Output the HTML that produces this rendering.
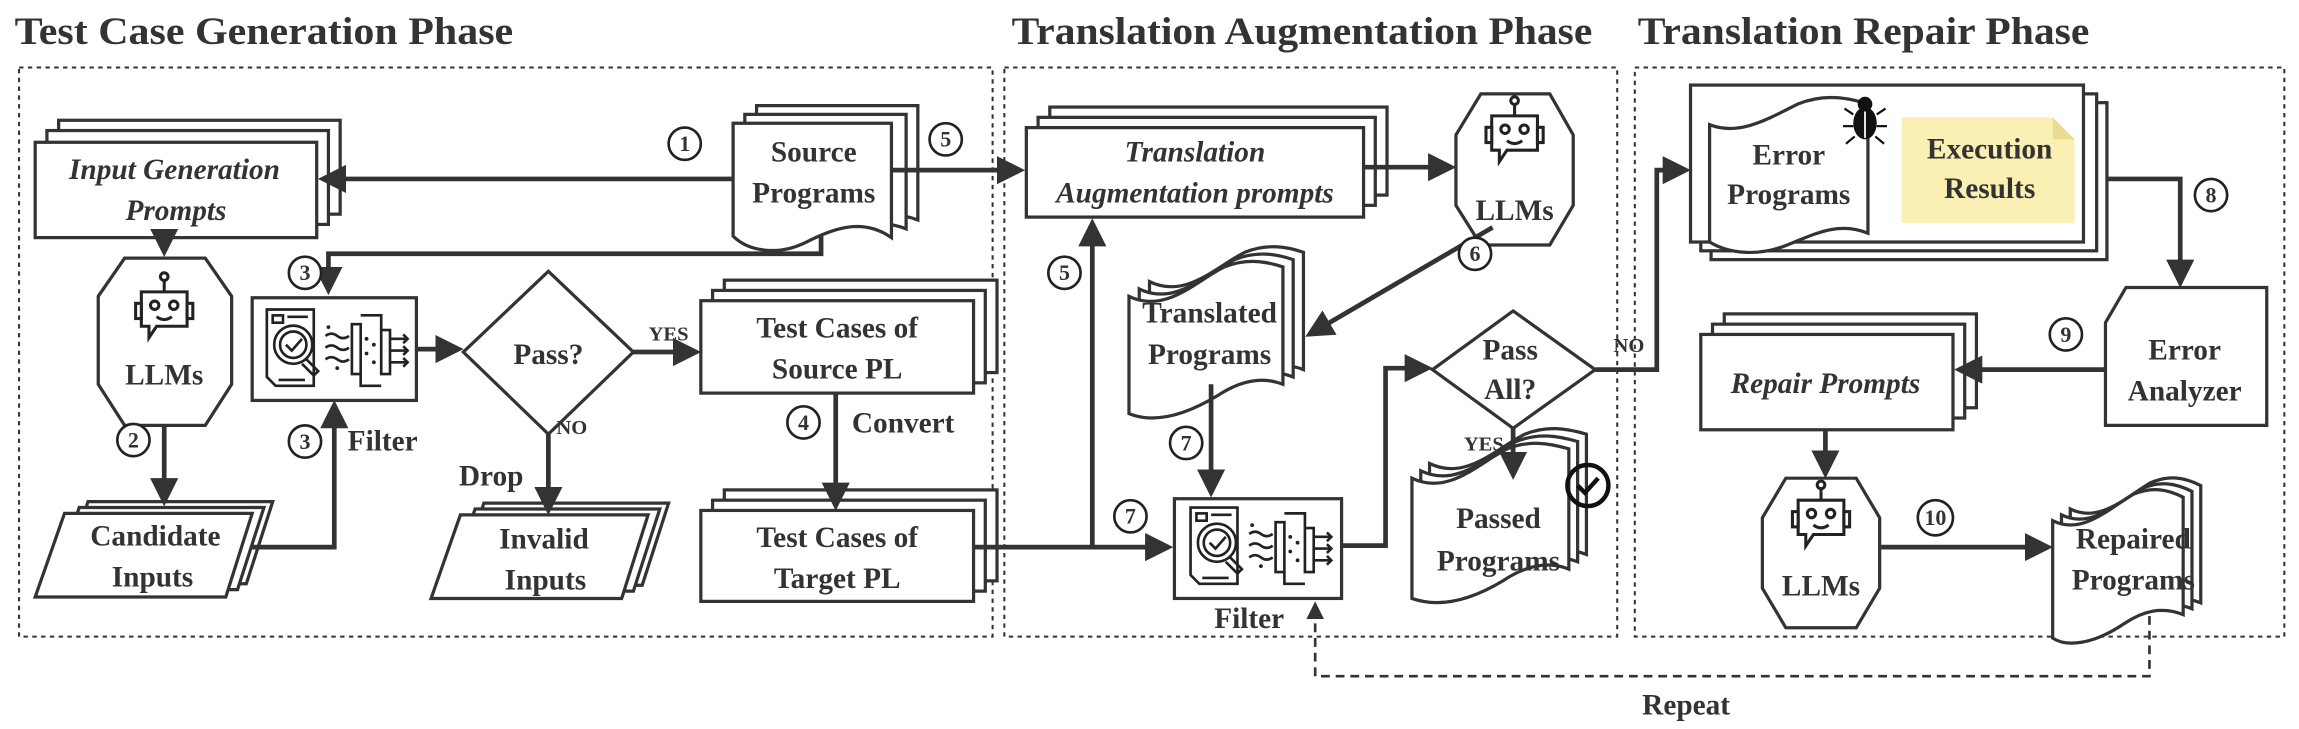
<!DOCTYPE html>
<html><head><meta charset="utf-8"><style>
html,body{margin:0;padding:0;background:#fff;}
svg{display:block;}
text{font-family:"Liberation Serif",serif;font-weight:bold;fill:#333;}
</style></head><body>
<svg width="2299" height="729" viewBox="0 0 1568 497" preserveAspectRatio="none" xmlns="http://www.w3.org/2000/svg">
<defs>
<marker id="ah" markerWidth="6" markerHeight="6" refX="5" refY="3" orient="auto" markerUnits="strokeWidth"><path d="M0,0 L6,3 L0,6 Z" fill="#333"/></marker>
<g id="filt" fill="none" stroke="#222" stroke-width="1.8">
<path d="M8,6 H40 V58 H14 L8,52 Z" fill="#fff"/>
<rect x="12" y="10" width="7" height="5"/>
<line x1="22" y1="11" x2="36" y2="11"/><line x1="16" y1="54" x2="34" y2="54"/>
<circle cx="26" cy="30" r="13" fill="#fff"/><circle cx="26" cy="30" r="9"/>
<path d="M21,30 l4,4 l7,-8"/><path d="M35,40 l8,8 l-3,3 l-8,-8"/>
<path d="M48,24 q4,-3 8,0 t8,0 M48,32 q4,-3 8,0 t8,0 M48,40 q4,-3 8,0 t8,0"/>
<rect x="66" y="16" width="6" height="34"/><rect x="86" y="20" width="6" height="30"/>
<path d="M72,10 H86 V20 M72,50 V58 H86"/>
<path d="M92,26 h12 m-3,-3 l3,3 l-3,3 M92,34 h12 m-3,-3 l3,3 l-3,3 M92,42 h12 m-3,-3 l3,3 l-3,3"/>
<g fill="#222" stroke="none"><circle cx="76" cy="26" r="1.3"/><circle cx="81" cy="30" r="1.3"/><circle cx="76" cy="36" r="1.3"/><circle cx="81" cy="42" r="1.3"/><circle cx="50" cy="18" r="1.3"/><circle cx="56" cy="46" r="1.3"/></g>
</g>
<g id="bot" fill="#fff" stroke="#222" stroke-width="1.6">
<line x1="0" y1="-16" x2="0" y2="-10"/><circle cx="0" cy="-18" r="2"/>
<path d="M-12,-10 H12 V8 H-4 L-8,14 V8 H-12 Z"/>
<rect x="-15" y="-4" width="3" height="8"/><rect x="12" y="-4" width="3" height="8"/>
<circle cx="-5" cy="-3" r="2.2"/><circle cx="5" cy="-3" r="2.2"/>
<path d="M-4,3 q4,3 8,0"/>
</g>
</defs>

<!-- titles -->
<text x="10" y="30" font-size="27" textLength="340" lengthAdjust="spacingAndGlyphs">Test Case Generation Phase</text>
<text x="690" y="30" font-size="27" textLength="396" lengthAdjust="spacingAndGlyphs">Translation Augmentation Phase</text>
<text x="1117" y="30" font-size="27" textLength="308" lengthAdjust="spacingAndGlyphs">Translation Repair Phase</text>

<!-- phase boxes -->
<g fill="none" stroke="#333" stroke-width="1.4" stroke-dasharray="3,3">
<rect x="13" y="46" width="664" height="388"/>
<rect x="685" y="46" width="418" height="388"/>
<rect x="1115" y="46" width="443" height="388"/>
</g>

<g stroke="#333" stroke-width="2.2" fill="#fff">
<rect x="40" y="82" width="192" height="64"/><rect x="32" y="89" width="192" height="64"/><rect x="24" y="97" width="192" height="65"/>
<path d="M516,72 h110 v78 c-30,-12 -60,10 -110,0 Z"/><path d="M508,78 h110 v78 c-30,-12 -60,10 -110,0 Z"/>
<path d="M500,84 h108 v78 c-20,-14 -40,-6 -58,3 c-20,10 -40,6 -50,-4 Z"/>
<rect x="494" y="191" width="186" height="63"/><rect x="486" y="198" width="186" height="63"/><rect x="478" y="205" width="186" height="63"/>
<rect x="494" y="334" width="186" height="62"/><rect x="486" y="341" width="186" height="62"/><rect x="478" y="348" width="186" height="62"/>
<!-- Candidate Inputs -->
<path d="M60,342 h126 l-18,56 h-126 Z"/><path d="M54,346 h126 l-18,56 h-126 Z"/><path d="M44,350 h128 l-18,57 h-130 Z"/>
<!-- Invalid Inputs -->
<path d="M330,343 h126 l-18,56 h-126 Z"/><path d="M324,347 h126 l-18,56 h-126 Z"/><path d="M314,351 h128 l-18,57 h-130 Z"/>
<!-- LLM octagons -->
<path d="M85,176 h55 l18,26 v60 l-18,28 h-55 l-18,-28 v-60 Z"/>
<path d="M1010,64 h47 l16,28 v48 l-16,27 h-47 l-17,-27 v-48 Z"/>
<path d="M1218,326 h48 l16,27 v48 l-16,27 h-48 l-16,-27 v-48 Z"/>
<path d="M374,185 L432,240 L374,296 L316,240 Z"/>
<path d="M1032,212 L1088,252 L1032,292 L977,252 Z"/>
<rect x="172" y="203" width="112" height="70"/>
<rect x="801" y="340" width="114" height="68"/>
<rect x="716" y="73" width="230" height="60"/><rect x="708" y="80" width="230" height="60"/><rect x="700" y="87" width="230" height="61"/>
<path d="M784,192 c25,12 45,-10 65,-20 c15,-6 28,-4 40,0 v80 c-15,-6 -30,-2 -45,8 c-25,15 -45,18 -60,12 Z"/>
<path d="M777,197 c25,12 45,-10 65,-20 c15,-6 28,-4 40,0 v80 c-15,-6 -30,-2 -45,8 c-25,15 -45,18 -60,12 Z"/>
<path d="M770,202 c25,12 45,-10 65,-20 c15,-6 28,-4 40,0 v80 c-15,-6 -30,-2 -45,8 c-25,15 -45,18 -60,12 Z"/>
<path d="M975,316 c25,12 45,-10 65,-20 c15,-6 28,-4 42,0 v82 c-15,-6 -30,-2 -45,8 c-25,15 -45,18 -62,12 Z"/>
<path d="M969,321 c25,12 45,-10 65,-20 c15,-6 28,-4 42,0 v82 c-15,-6 -30,-2 -45,8 c-25,15 -45,18 -62,12 Z"/>
<path d="M963,326 c25,12 45,-10 65,-20 c15,-6 28,-4 42,0 v82 c-15,-6 -30,-2 -45,8 c-25,15 -45,18 -62,12 Z"/>
<path d="M1412,347 c20,10 38,-8 55,-18 c12,-5 22,-4 34,2 v80 c-15,-6 -28,-2 -40,6 c-22,15 -40,16 -49,10 Z"/>
<path d="M1406,351 c20,10 38,-8 55,-18 c12,-5 22,-4 34,2 v80 c-15,-6 -28,-2 -40,6 c-22,15 -40,16 -49,10 Z"/>
<path d="M1400,355 c20,10 38,-8 55,-18 c12,-5 22,-4 34,2 v80 c-15,-6 -28,-2 -40,6 c-22,15 -40,16 -49,10 Z"/>
<rect x="1167" y="70" width="270" height="107"/><rect x="1160" y="64" width="270" height="107"/><rect x="1153" y="58" width="268" height="107"/>
<path d="M1166,85 c20,8 40,-4 60,-14 c15,-6 30,-6 48,0 v88 c-20,-8 -35,0 -55,8 c-20,8 -40,6 -53,-2 Z"/>
<rect x="1176" y="214" width="172" height="64"/><rect x="1168" y="221" width="172" height="64"/><rect x="1160" y="228" width="172" height="65"/>
<path d="M1450,196 h96 v94 h-110 v-70 Z"/>
</g>
<path d="M1297,80 h103 l15,15 v57 h-118 Z" fill="#fbf0b4"/>
<path d="M1400,80 v15 h15 Z" fill="#ecdc92"/>
<g fill="#111"><ellipse cx="1272" cy="84" rx="8" ry="11"/><circle cx="1272" cy="71" r="5"/>
<g stroke="#111" stroke-width="1.5"><line x1="1264" y1="78" x2="1258" y2="74"/><line x1="1280" y1="78" x2="1286" y2="74"/><line x1="1264" y1="86" x2="1257" y2="86"/><line x1="1280" y1="86" x2="1287" y2="86"/><line x1="1265" y1="93" x2="1259" y2="98"/><line x1="1279" y1="93" x2="1285" y2="98"/></g></g>
<line x1="1272" y1="76" x2="1272" y2="94" stroke="#fff" stroke-width="1.2"/>
<circle cx="1083" cy="331" r="14" fill="none" stroke="#111" stroke-width="3"/>
<path d="M1076,331 l5,5 l9,-10" fill="none" stroke="#111" stroke-width="3"/>

<use href="#filt" x="174" y="205"/>
<use href="#filt" x="804" y="340"/>
<g transform="translate(112,212) scale(1.3)"><use href="#bot"/></g>
<g transform="translate(1033,92) scale(1.3)"><use href="#bot"/></g>
<g transform="translate(1242,354) scale(1.3)"><use href="#bot"/></g>

<g fill="none" stroke="#333" stroke-width="3.2" marker-end="url(#ah)">
<path d="M500,122 H220"/>
<path d="M608,116 H696"/>
<path d="M560,160 V173 H224 V198"/>
<path d="M112,162 V172"/>
<path d="M112,290 V342"/>
<path d="M172,373 H228 V276"/>
<path d="M285,238 H313"/>
<path d="M432,240 H475"/>
<path d="M374,296 V348"/>
<path d="M570,268 V345"/>
<path d="M664,373 H797"/>
<path d="M745,373 V152"/>
<path d="M930,114 H990"/>
<path d="M1018,155 L893,228"/>
<path d="M826,262 V336"/>
<path d="M915,372 H945 V251 H974"/>
<path d="M1088,252 H1130 V116 H1150"/>
<path d="M1032,292 V324"/>
<path d="M1437,122 H1487 V193"/>
<path d="M1436,252 H1336"/>
<path d="M1245,293 V323"/>
<path d="M1283,373 H1397"/>
</g>
<path d="M1466,420 V461 H897 V412" fill="none" stroke="#333" stroke-width="1.8" stroke-dasharray="6,4"/>
<path d="M897,410 L891,422 H903 Z" fill="#333"/>

<g fill="#fff" stroke="#222" stroke-width="1.8">
<circle cx="467" cy="98" r="11"/><circle cx="645" cy="95" r="11"/><circle cx="208" cy="186" r="11"/>
<circle cx="91" cy="300" r="11"/><circle cx="208" cy="301" r="11"/><circle cx="548" cy="288" r="11"/>
<circle cx="726" cy="186" r="11"/><circle cx="771" cy="352" r="11"/><circle cx="809" cy="302" r="11"/>
<circle cx="1006" cy="173" r="11"/><circle cx="1508" cy="133" r="11"/><circle cx="1409" cy="228" r="11"/>
<circle cx="1320" cy="353" r="12"/>
</g>
<g font-size="15" text-anchor="middle" style="font-family:'Liberation Sans',sans-serif">
<text x="467" y="103">1</text><text x="645" y="100">5</text><text x="208" y="191">3</text>
<text x="91" y="305">2</text><text x="208" y="306">3</text><text x="548" y="293">4</text>
<text x="726" y="191">5</text><text x="771" y="357">7</text><text x="809" y="307">7</text>
<text x="1006" y="178">6</text><text x="1508" y="138">8</text><text x="1409" y="233">9</text>
<text x="1320" y="358">10</text>
</g>

<g font-size="20" text-anchor="middle">
<text x="119" y="122" font-style="italic">Input Generation</text>
<text x="120" y="150" font-style="italic">Prompts</text>
<text x="555" y="110">Source</text><text x="555" y="138">Programs</text>
<text x="112" y="262">LLMs</text>
<text x="374" y="248">Pass?</text>
<text x="571" y="230">Test Cases of</text><text x="571" y="258">Source PL</text>
<text x="571" y="373">Test Cases of</text><text x="571" y="401">Target PL</text>
<text x="106" y="372">Candidate</text><text x="104" y="400">Inputs</text>
<text x="371" y="374">Invalid</text><text x="372" y="402">Inputs</text>
<text x="815" y="110" font-style="italic">Translation</text>
<text x="815" y="138" font-style="italic">Augmentation prompts</text>
<text x="1033" y="150">LLMs</text>
<text x="825" y="220">Translated</text><text x="825" y="248">Programs</text>
<text x="1030" y="245">Pass</text><text x="1030" y="272">All?</text>
<text x="1022" y="360">Passed</text><text x="1022" y="389">Programs</text>
<text x="1220" y="112">Error</text><text x="1220" y="139">Programs</text>
<text x="1357" y="108">Execution</text><text x="1357" y="135">Results</text>
<text x="1490" y="245">Error</text><text x="1490" y="273">Analyzer</text>
<text x="1245" y="268" font-style="italic">Repair Prompts</text>
<text x="1242" y="406">LLMs</text>
<text x="1455" y="374">Repaired</text><text x="1455" y="402">Programs</text>
<text x="261" y="307">Filter</text>
<text x="616" y="295">Convert</text>
<text x="335" y="331">Drop</text>
<text x="852" y="428">Filter</text>
<text x="1150" y="487">Repeat</text>
</g>
<g font-size="14" text-anchor="middle">
<text x="456" y="232">YES</text>
<text x="390" y="296">NO</text>
<text x="1111" y="240">NO</text>
<text x="1012" y="307">YES</text>
</g>
</svg>
</body></html>
